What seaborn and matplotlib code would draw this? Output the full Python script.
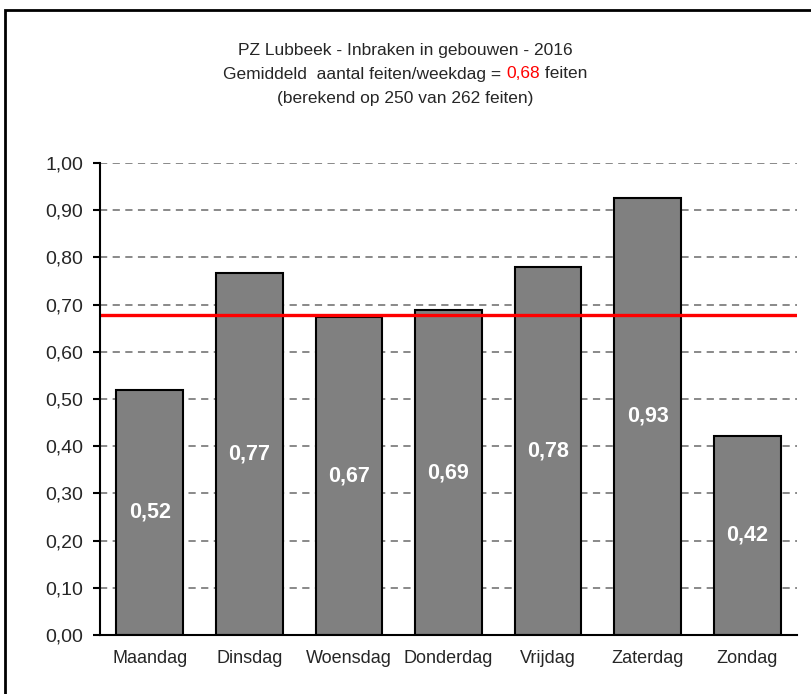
import matplotlib
matplotlib.use("Agg")
import matplotlib.pyplot as plt
import seaborn as sns
import pandas as pd
import numpy as np
from matplotlib.patches import Rectangle

days = ["Maandag", "Dinsdag", "Woensdag", "Donderdag", "Vrijdag", "Zaterdag", "Zondag"]
values = [0.52, 0.766, 0.673, 0.688, 0.779, 0.926, 0.422]
mean_value = 0.678
title_line1 = "PZ Lubbeek - Inbraken in gebouwen - 2016"
title_line2_a = "Gemiddeld  aantal feiten/weekdag = "
title_line2_b = "0,68"
title_line2_c = " feiten"
title_line3 = "(berekend op 250 van 262 feiten)"
yticks = [0.0, 0.1, 0.2, 0.3, 0.4, 0.5, 0.6, 0.7, 0.8, 0.9, 1.0]

sns.set_theme(style="white")
plt.rcParams['font.family'] = ['Liberation Sans', 'DejaVu Sans']

W, H = 811, 694
fig = plt.figure(figsize=(W/100, H/100), dpi=100)
ax = fig.add_axes([100/W, (H-635)/H, (797-100)/W, (635-163)/H])

df = pd.DataFrame({"dag": days, "waarde": values})
sns.barplot(data=df, x="dag", y="waarde", color="#808080", edgecolor="black",
            linewidth=1.5, width=0.67, saturation=1, ax=ax, zorder=3)

ax.set_ylim(0, 1.0)
ax.set_xlim(-0.5, 6.5)
ax.set_yticks(yticks)
ax.set_yticklabels([f"{v:.2f}".replace(".", ",") for v in yticks], fontsize=14)
ax.set_xlabel("")
ax.set_ylabel("")
ax.tick_params(axis="x", which="major", length=0, labelsize=13, pad=11)
ax.set_xticks(np.arange(-0.5, 7, 1), minor=True)
ax.tick_params(axis="x", which="minor", length=5, width=1.5, color="black", direction="out")
ax.tick_params(axis="y", length=5, width=1.5, color="black", direction="out", left=True, pad=7)

for s in ["top", "right"]:
    ax.spines[s].set_visible(False)
for s in ["left", "bottom"]:
    ax.spines[s].set_color("black")
    ax.spines[s].set_linewidth(1.5)
    ax.spines[s].set_zorder(5)

for v in yticks[1:]:
    ax.axhline(v, color="#808080", linestyle=(0, (4, 3)), linewidth=1.3, zorder=1)

ax.axhline(mean_value, color="#ff0000", linewidth=2.4, zorder=4)

for i, v in enumerate(values):
    ax.text(i, v / 2, f"{v:.2f}".replace(".", ","), ha="center", va="center",
            color="white", fontsize=15.5, fontweight="bold", zorder=6)

# title
cx = 405 / W
fs_t = 12.5
fig.text(cx, (H-50)/H, title_line1, ha="center", va="center", fontsize=fs_t)
fig.text(cx, (H-98)/H, title_line3, ha="center", va="center", fontsize=fs_t)

renderer = fig.canvas.get_renderer()
ta = fig.text(0, (H-74)/H, title_line2_a, ha="left", va="center", fontsize=fs_t)
tb = fig.text(0, (H-74)/H, title_line2_b, ha="left", va="center", fontsize=fs_t, color="#ff0000")
tc = fig.text(0, (H-74)/H, title_line2_c, ha="left", va="center", fontsize=fs_t)
wa = ta.get_window_extent(renderer).width
wb = tb.get_window_extent(renderer).width
wc = tc.get_window_extent(renderer).width
total = wa + wb + wc
x0 = 405 - total / 2
ta.set_x(x0 / W)
tb.set_x((x0 + wa) / W)
tc.set_x((x0 + wa + wb) / W)

# outer border
fig.patches.append(Rectangle((5/W, -0.05), 1.0, (H-10)/H + 0.05, transform=fig.transFigure,
                             fill=False, edgecolor="black", linewidth=2))

fig.savefig("out.png", dpi=100)
